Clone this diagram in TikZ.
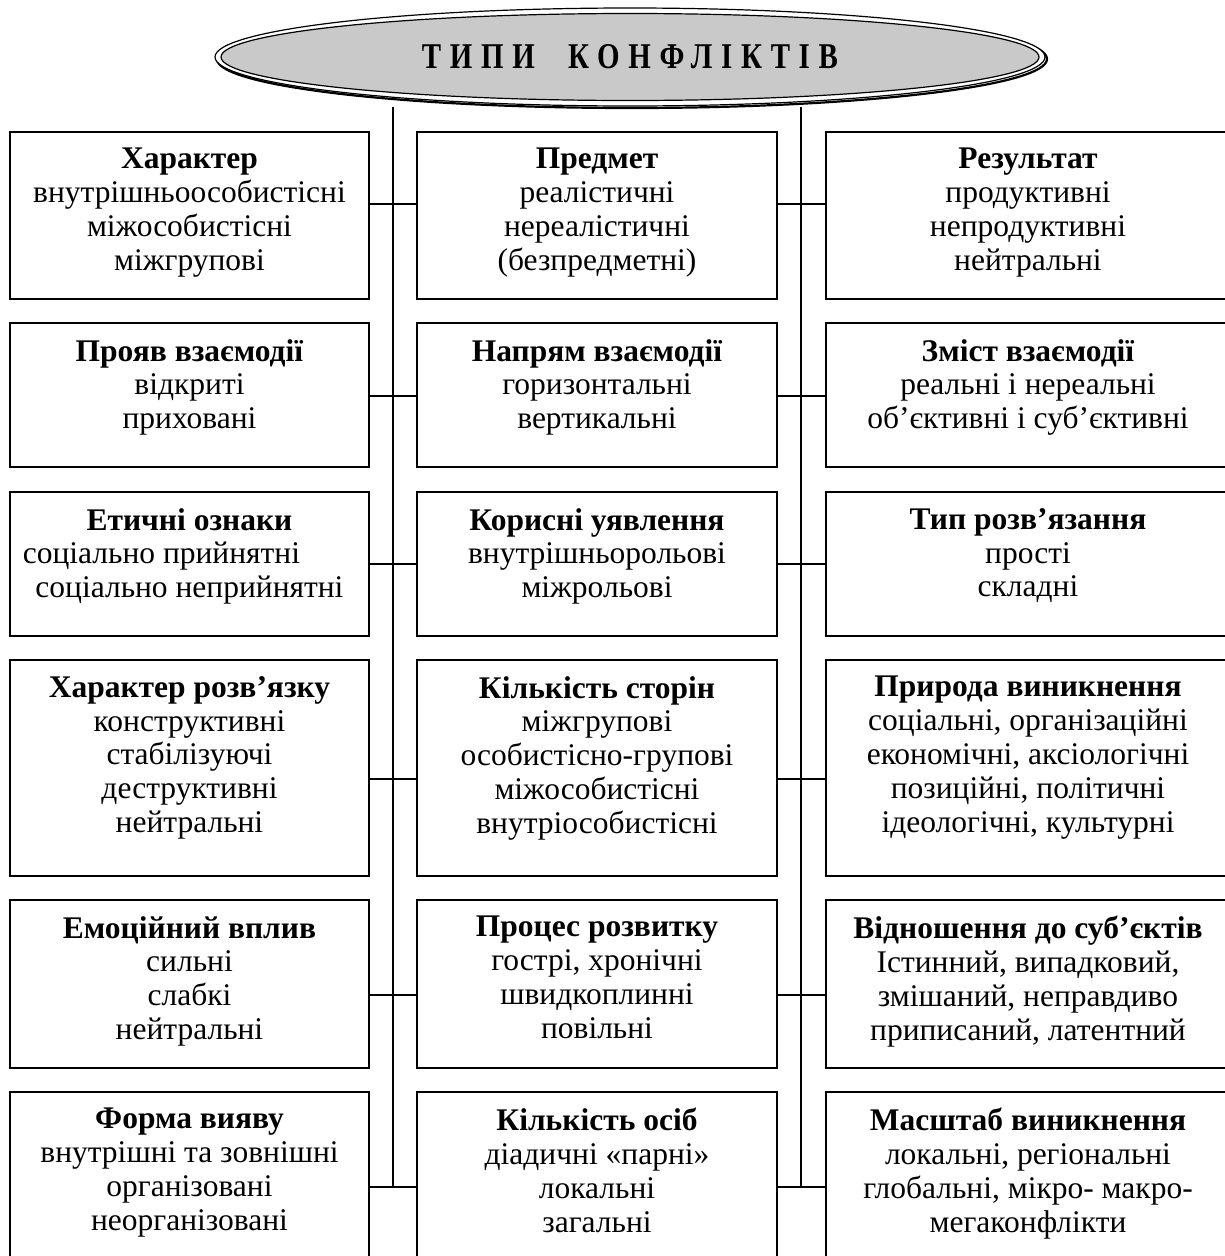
\documentclass[tikz,border=0pt]{standalone}
\usepackage{fontspec}
\setmainfont{Liberation Serif}
\newfontfamily\titlefont[LetterSpace=30]{Liberation Serif}
\usetikzlibrary{shapes.geometric}
\begin{document}
\begin{tikzpicture}[x=1pt,y=-1pt,
  box/.style={draw, line width=1.6pt, inner sep=0pt, outer sep=0pt},
  txt/.style={anchor=north, align=center, inner sep=0pt, font=\fontsize{31.5}{33.9}\selectfont},
  conn/.style={line width=1.6pt},
  trunk/.style={line width=1.3pt}]
\useasboundingbox (0,0) rectangle (1225,1256);
\begin{scope}
\clip (0,0) rectangle (1225,1256);
% title ellipse
\node[ellipse, draw, line width=2.2pt, minimum width=830pt, minimum height=98pt, inner sep=0pt] (Esh) at (632,59) {};
\node[ellipse, draw, fill=white, line width=1.2pt, minimum width=830pt, minimum height=98pt, inner sep=0pt] (Eout) at (630,57) {};
\node[ellipse, draw, fill=black!21, line width=1.2pt, minimum width=818pt, minimum height=87pt, inner sep=0pt] (E) at (630,57)
  {\resizebox{416pt}{24pt}{\titlefont\bfseries ТИПИ\hspace{1.15em}КОНФЛІКТІВ}};
% trunks
\coordinate (V1a) at (393,107); \coordinate (V1b) at (393,1187);
\coordinate (V2a) at (801,107); \coordinate (V2b) at (801,1187);
\draw[trunk] (V1a) -- (V1b);
\draw[trunk] (V2a) -- (V2b);
% row 1
\node[box, minimum width=359pt, minimum height=167pt] (L1) at (189.5,215.5) {};
\node[box, minimum width=360pt, minimum height=167pt] (M1) at (597,215.5) {};
\node[box, minimum width=404pt, minimum height=167pt] (R1) at (1028,215.5) {};
% row 2
\node[box, minimum width=359pt, minimum height=144pt] (L2) at (189.5,395) {};
\node[box, minimum width=360pt, minimum height=144pt] (M2) at (597,395) {};
\node[box, minimum width=404pt, minimum height=144pt] (R2) at (1028,395) {};
% row 3
\node[box, minimum width=359pt, minimum height=144pt] (L3) at (189.5,564) {};
\node[box, minimum width=360pt, minimum height=144pt] (M3) at (597,564) {};
\node[box, minimum width=404pt, minimum height=144pt] (R3) at (1028,564) {};
% row 4
\node[box, minimum width=359pt, minimum height=216pt] (L4) at (189.5,768) {};
\node[box, minimum width=360pt, minimum height=216pt] (M4) at (597,768) {};
\node[box, minimum width=404pt, minimum height=216pt] (R4) at (1028,768) {};
% row 5
\node[box, minimum width=359pt, minimum height=168pt] (L5) at (189.5,984) {};
\node[box, minimum width=360pt, minimum height=168pt] (M5) at (597,984) {};
\node[box, minimum width=404pt, minimum height=168pt] (R5) at (1028,984) {};
% row 6
\node[box, minimum width=359pt, minimum height=170pt] (L6) at (189.5,1177) {};
\node[box, minimum width=360pt, minimum height=170pt] (M6) at (597,1177) {};
\node[box, minimum width=404pt, minimum height=170pt] (R6) at (1028,1177) {};
% connectors
\foreach \i/\y in {1/204,2/396,3/564,4/779,5/995,6/1187}{
  \coordinate (r\i) at (0,\y);
  \draw[conn] (L\i.east |- r\i) -- (M\i.west |- r\i);
  \draw[conn] (M\i.east |- r\i) -- (R\i.west |- r\i);
}
% texts
\node[txt] (L1t) at ([yshift=-16pt]L1.north) {\textbf{Характер}\\внутрішньоособистісні\\міжособистісні\\міжгрупові};
\node[txt] (M1t) at ([yshift=-16pt]M1.north) {\textbf{Предмет}\\реалістичні\\нереалістичні\\(безпредметні)};
\node[txt] (R1t) at ([yshift=-16pt]R1.north) {\textbf{Результат}\\продуктивні\\непродуктивні\\нейтральні};
\node[txt] (L2t) at ([yshift=-16pt]L2.north) {\textbf{Прояв взаємодії}\\відкриті\\приховані};
\node[txt] (M2t) at ([yshift=-16pt]M2.north) {\textbf{Напрям взаємодії}\\горизонтальні\\вертикальні};
\node[txt] (R2t) at ([yshift=-16pt]R2.north) {\textbf{Зміст взаємодії}\\реальні і нереальні\\об’єктивні і суб’єктивні};
\node[txt] (L3t) at ([yshift=-16pt]L3.north) {\textbf{Етичні ознаки}\\соціально прийнятні\rule{56pt}{0pt}\\соціально неприйнятні};
\node[txt] (M3t) at ([yshift=-16pt]M3.north) {\textbf{Корисні уявлення}\\внутрішньорольові\\міжрольові};
\node[txt] (R3t) at ([yshift=-16pt]R3.north) {\textbf{Тип розв’язання}\\прості\\складні};
\node[txt] (L4t) at ([yshift=-16pt]L4.north) {\textbf{Характер розв’язку}\\конструктивні\\стабілізуючі\\деструктивні\\нейтральні};
\node[txt] (M4t) at ([yshift=-16pt]M4.north) {\textbf{Кількість сторін}\\міжгрупові\\особистісно-групові\\міжособистісні\\внутріособистісні};
\node[txt] (R4t) at ([yshift=-16pt]R4.north) {\textbf{Природа виникнення}\\соціальні, організаційні\\економічні, аксіологічні\\позиційні, політичні\\ідеологічні, культурні};
\node[txt] (L5t) at ([yshift=-16pt]L5.north) {\textbf{Емоційний вплив}\\сильні\\слабкі\\нейтральні};
\node[txt] (M5t) at ([yshift=-16pt]M5.north) {\textbf{Процес розвитку}\\гострі, хронічні\\швидкоплинні\\повільні};
\node[txt] (R5t) at ([yshift=-16pt]R5.north) {\textbf{Відношення до суб’єктів}\\Істинний, випадковий,\\змішаний, неправдиво\\приписаний, латентний};
\node[txt] (L6t) at ([yshift=-16pt]L6.north) {\textbf{Форма вияву}\\внутрішні та зовнішні\\організовані\\неорганізовані};
\node[txt] (M6t) at ([yshift=-16pt]M6.north) {\textbf{Кількість осіб}\\діадичні «парні»\\локальні\\загальні};
\node[txt] (R6t) at ([yshift=-16pt]R6.north) {\textbf{Масштаб виникнення}\\локальні, регіональні\\глобальні, мікро- макро-\\мегаконфлікти};
\end{scope}
\end{tikzpicture}
\end{document}
